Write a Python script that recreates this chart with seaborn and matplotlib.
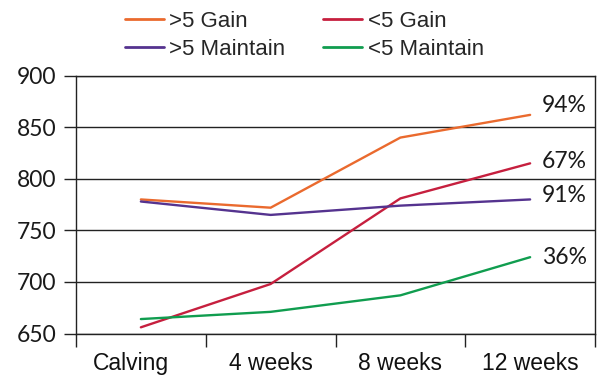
import matplotlib
matplotlib.use("Agg")
import matplotlib.pyplot as plt
import matplotlib.transforms as mtransforms
import seaborn as sns
import pandas as pd

# Body weight (kg) by stage, per BCS group
stages = ["Calving", "4 weeks", "8 weeks", "12 weeks"]
gain_over5 = [780, 772, 840, 862]
gain_under5 = [656, 698, 781, 815]
maintain_over5 = [778, 765, 774, 780]
maintain_under5 = [664, 671, 687, 724]
end_labels = ["94%", "67%", "91%", "36%"]

series_names = [">5 Gain", "<5 Gain", ">5 Maintain", "<5 Maintain"]
series_values = [gain_over5, gain_under5, maintain_over5, maintain_under5]
colors = {">5 Gain": "#ea6a2e", "<5 Gain": "#c61f3e",
          ">5 Maintain": "#55338f", "<5 Maintain": "#109d4f"}

rows = []
for name, vals in zip(series_names, series_values):
    for i, (s, v) in enumerate(zip(stages, vals)):
        rows.append({"series": name, "pos": i, "stage": s, "weight": v})
df = pd.DataFrame(rows)

sns.set_theme(style="white")
plt.rcParams["font.family"] = ["Liberation Sans", "DejaVu Sans"]

fig = plt.figure(figsize=(5.97, 3.77), dpi=100)
ax = fig.add_axes([76 / 597, 1 - 333.5 / 377, (595 - 76) / 597, (333.5 - 75.7) / 377])

sns.lineplot(data=df, x="pos", y="weight", hue="series", hue_order=series_names,
             palette=colors, linewidth=1.7, sort=False, legend=False, ax=ax)

ax.set_xlim(-0.5, 3.5)
ax.set_ylim(650, 900)
ax.set_xlabel("")
ax.set_ylabel("")

# y axis: gridlines at each tick, ticks sticking out to the left
ax.set_yticks([650, 700, 750, 800, 850, 900])
ax.set_yticklabels(["650", "700", "750", "800", "850", "900"],
                   fontfamily="Lato", fontsize=16.5, color="#1a1a1a")
ax.grid(axis="y", color="#222222", linewidth=1.0)
ax.tick_params(axis="y", length=9, width=1.0, color="#222222", direction="out",
               left=True, pad=5)

# x axis: labels at stage centres, ticks at stage boundaries
ax.set_xticks(range(len(stages)))
ax.set_xticklabels(stages, fontsize=16.5, color="#111111")
ax.tick_params(axis="x", which="major", length=0, pad=13.5)
ax.set_xticks([-0.5, 0.5, 1.5, 2.5, 3.5], minor=True)
ax.tick_params(axis="x", which="minor", length=9, width=1.0, color="#222222",
               direction="out", bottom=True)
# nudge the first stage label a little to the left
first = ax.get_xticklabels()[0]
first.set_transform(first.get_transform() +
                    mtransforms.ScaledTranslation(-10 / 100, 0, fig.dpi_scale_trans))

for side in ["left", "right", "bottom", "top"]:
    ax.spines[side].set_visible(True)
    ax.spines[side].set_color("#222222")
    ax.spines[side].set_linewidth(1.0)

# End-of-period percentages
label_dy = [7, 1.5, 3, 0]
for vals, lab, dy in zip(series_values, end_labels, label_dy):
    ax.annotate(lab, xy=(3, vals[-1]), xytext=(8.5, dy),
                textcoords="offset points", ha="left", va="center",
                fontfamily="Lato", fontsize=16.5, color="#1a1a1a")

handles = [plt.Line2D([], [], color=colors[n], linewidth=2) for n in series_names]
order = [0, 2, 1, 3]
fig.legend([handles[i] for i in order], [series_names[i] for i in order],
           ncol=2, loc="upper left", bbox_to_anchor=(105 / 597, 1.025),
           frameon=False, fontsize=16, handlelength=1.75, handletextpad=0.25,
           columnspacing=1.7, labelspacing=0.34)

fig.savefig("out.png", dpi=100)
